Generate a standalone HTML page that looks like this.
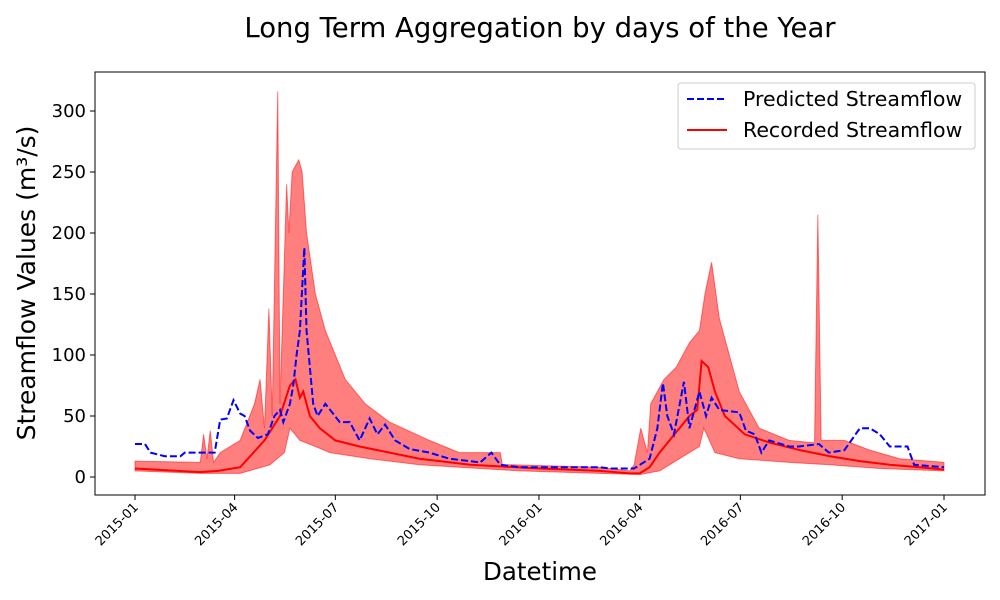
<!DOCTYPE html>
<html><head><meta charset="utf-8"><style>
body{margin:0;background:#fff;}
svg{display:block;font-family:"DejaVu Sans","Liberation Sans",sans-serif;}
</style></head><body>
<svg id="chart" width="1000" height="600"></svg>
<script>
const tickDays=[0,90,181,273,365,456,547,639,731];
const tickLabels=["2015-01","2015-04","2015-07","2015-10","2016-01","2016-04","2016-07","2016-10","2017-01"];
const yTicks=[0,50,100,150,200,250,300];
const recDays=[0,59,75,95,117,131,140,145,149,152,158,167,181,203,230,257,303,366,420,447,456,465,474,483,501,508,512,518,524,533,551,574,601,628,655,682,709,731];
const recVals=[7,4,5,8,30,50,75,80,65,70,50,40,30,25,20,15,10,7,5,3,3,8,20,30,50,55,95,90,70,50,35,28,22,17,13,10,8,6];
const upDays=[0,59,62,65,68,71,77,95,108,113,117,121,124,129,131,137,139,142,145,148,151,155,163,172,181,190,208,230,266,293,321,330,332,340,420,447,451,457,463,466,478,489,501,510,515,521,528,537,546,564,591,614,617,620,641,664,691,731];
const upVals=[13,12,35,15,38,12,20,30,60,80,40,138,50,316,60,240,200,250,255,260,250,200,150,120,100,80,60,45,30,20,20,20,10,10,8,5,10,40,20,60,80,90,110,120,150,176,130,100,70,40,30,28,215,30,30,22,15,12];
const loDays=[0,59,95,122,135,140,149,163,176,212,257,348,420,456,474,492,510,514,524,546,591,628,673,731];
const loVals=[5,3,3,10,20,40,30,25,20,15,10,5,3,2,5,15,25,40,20,15,12,10,7,5];
const predDays=[0,9,14,27,41,45,72,77,83,89,95,99,104,111,120,126,131,134,140,143,146,149,153,155,161,165,172,185,194,203,212,219,226,235,248,266,284,312,322,330,348,420,429,451,465,472,477,481,487,496,501,510,516,521,528,546,552,560,566,573,591,600,618,627,641,655,664,673,682,698,704,731];
const predVals=[27,27,20,17,17,20,20,47,48,63,52,50,38,32,35,50,55,45,60,75,100,120,188,120,60,50,60,45,45,30,48,35,43,30,23,20,15,12,20,10,8,8,7,7,15,40,77,50,35,78,40,70,50,65,55,53,38,35,20,30,25,25,27,20,22,40,40,35,25,25,10,8];

const svg=document.getElementById('chart');
const NS='http://www.w3.org/2000/svg';
const X=d=>135+d*(944-135)/731;
const Y=v=>477-v*1.22;
function mk(tag,attrs,parent){const e=document.createElementNS(NS,tag);for(const k in attrs)e.setAttribute(k,attrs[k]);(parent||svg).appendChild(e);return e;}
function interp(days,vals,d){for(let i=0;i<days.length-1;i++){if(d>=days[i]&&d<=days[i+1]){const t=(d-days[i])/((days[i+1]-days[i])||1);return vals[i]+t*(vals[i+1]-vals[i]);}}return vals[vals.length-1];}

let t=mk('text',{x:540,y:37,'text-anchor':'middle','font-size':27.5,fill:'#000'});t.textContent='Long Term Aggregation by days of the Year';


const allD=[...new Set([...upDays,...loDays])].sort((a,b)=>a-b);
let bp=allD.map(d=>X(d)+','+Y(interp(upDays,upVals,d))).join(' ');
bp+=' '+allD.slice().reverse().map(d=>X(d)+','+Y(interp(loDays,loVals,d))).join(' ');
let band=mk('polygon',{points:bp,fill:'#ff0000','fill-opacity':0.5,stroke:'#ff0000','stroke-opacity':0.5,'stroke-width':1});


let rec=mk('polyline',{points:recDays.map((d,i)=>X(d)+','+Y(recVals[i])).join(' '),fill:'none',stroke:'#ff0000','stroke-width':2});

let pred=mk('polyline',{points:predDays.map((d,i)=>X(d)+','+Y(predVals[i])).join(' '),fill:'none',stroke:'#0000ff','stroke-width':2,'stroke-dasharray':'7,3'});


let fr=mk('rect',{x:95,y:72,width:890,height:423,fill:'none',stroke:'#000','stroke-width':1});


tickDays.forEach((d,i)=>{
  const x=X(d);
  mk('line',{x1:x,x2:x,y1:495,y2:500,stroke:'#000'});
  const lb=mk('text',{x:x+4,y:508,'text-anchor':'end','font-size':13,transform:`rotate(-45 ${x+4} 508)`});
  lb.textContent=tickLabels[i];
  
});
yTicks.forEach(v=>{
  const y=Y(v);
  mk('line',{x1:90,x2:95,y1:y,y2:y,stroke:'#000'});
  const lb=mk('text',{x:86,y:y+6,'text-anchor':'end','font-size':18});
  lb.textContent=v;
  
});
let xt=mk('text',{x:540,y:580,'text-anchor':'middle','font-size':24.5});xt.textContent='Datetime';

let yt=mk('text',{x:35,y:283,'text-anchor':'middle','font-size':25,transform:'rotate(-90 35 283)'});yt.textContent='Streamflow Values (m³/s)';


let lg=mk('g',{});

mk('rect',{x:678,y:83,width:297,height:66,rx:3,fill:'#fff','fill-opacity':0.8,stroke:'#ccc'},lg);
mk('line',{x1:687,x2:727,y1:99,y2:99,stroke:'#0000ff','stroke-width':2,'stroke-dasharray':'7,3'},lg);
let l1=mk('text',{x:743,y:106,'font-size':20.5},lg);l1.textContent='Predicted Streamflow';

mk('line',{x1:687,x2:727,y1:130,y2:130,stroke:'#ff0000','stroke-width':2},lg);
let l2=mk('text',{x:743,y:137,'font-size':20.5},lg);l2.textContent='Recorded Streamflow';

</script>
</body></html>
